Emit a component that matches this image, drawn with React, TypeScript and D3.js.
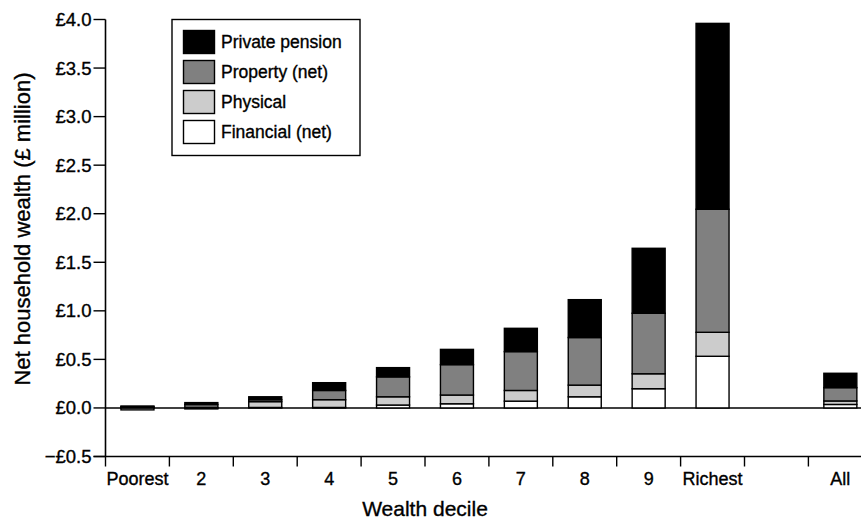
import React from "react";
import * as d3 from "d3";

const categories = ["Poorest", "2", "3", "4", "5", "6", "7", "8", "9", "Richest", "", "All"];
const seriesNames = ["Financial (net)", "Physical", "Property (net)", "Private pension"];
const financial = [-0.02, -0.01, 0.005, 0.005, 0.03, 0.043, 0.07, 0.115, 0.198, 0.532, null, 0.036];
const physical = [0.01, 0.005, 0.06, 0.08, 0.085, 0.09, 0.11, 0.12, 0.154, 0.247, null, 0.036];
const property = [0.0, 0.03, 0.02, 0.095, 0.205, 0.313, 0.4, 0.49, 0.623, 1.267, null, 0.137];
const pension = [0.01, 0.02, 0.03, 0.08, 0.095, 0.157, 0.24, 0.39, 0.669, 1.914, null, 0.148];
const yTicks = [-0.5, 0, 0.5, 1.0, 1.5, 2.0, 2.5, 3.0, 3.5, 4.0];
const colors = ["#ffffff", "#cccccc", "#808080", "#000000"];
const legendOrder = [3, 2, 1, 0];

const W = 861;
const H = 525;
const FONT = "'Liberation Sans', Arial, Helvetica, sans-serif";
const TS = { stroke: "#000", strokeWidth: 0.35 };

export default function App() {
  const x0 = 105.5;
  const step = 63.9;
  const x = d3
    .scaleBand<string>()
    .domain(categories.map((c, i) => String(i)))
    .range([x0, x0 + step * categories.length])
    .padding(0);
  const barW = 33;
  const y = d3.scaleLinear().domain([-0.5, 4.0]).range([456.5, 19.5]);
  const series = [financial, physical, property, pension];

  const rects: React.ReactNode[] = [];
  categories.forEach((c, i) => {
    if (financial[i] === null) return;
    let pos = 0;
    let neg = 0;
    const cx = (x(String(i)) as number) + x.bandwidth() / 2;
    series.forEach((s, k) => {
      const v = s[i] as number;
      let a: number, b: number;
      if (v >= 0) {
        a = pos;
        b = pos + v;
        pos = b;
      } else {
        a = neg;
        b = neg + v;
        neg = b;
      }
      const top = y(Math.max(a, b));
      const bot = y(Math.min(a, b));
      rects.push(
        <rect
          key={`${i}-${k}`}
          x={cx - barW / 2}
          y={top}
          width={barW}
          height={Math.max(bot - top, 0.5)}
          fill={colors[k]}
          stroke="#000"
          strokeWidth={1.4}
        />
      );
    });
  });

  const boundaries = d3.range(categories.length + 1).map((i) => x0 + i * step);

  return (
    <svg
      width={W}
      height={H}
      style={{ position: "absolute", left: 0, top: 0, background: "#fff" }}
      fontFamily={FONT}
    >
      <line x1={x0} x2={W} y1={y(0)} y2={y(0)} stroke="#000" strokeWidth={1.6} />
      {rects}
      <line x1={x0} x2={x0} y1={y(4)} y2={y(-0.5)} stroke="#000" strokeWidth={1.6} />
      {yTicks.map((t) => (
        <g key={t}>
          <line x1={x0 - 12} x2={x0} y1={y(t)} y2={y(t)} stroke="#000" strokeWidth={1.4} />
          <text
            x={x0 - 14}
            y={y(t)}
            dy="0.35em"
            textAnchor="end"
            fontSize={18.5}
            fill="#000"
            {...TS}
          >
            {(t < 0 ? "\u2212£" : "£") + Math.abs(t).toFixed(1)}
          </text>
        </g>
      ))}
      <line x1={x0 - 12} x2={W} y1={y(-0.5)} y2={y(-0.5)} stroke="#000" strokeWidth={1.6} />
      {boundaries.map((b, i) => (
        <line key={i} x1={b} x2={b} y1={y(-0.5)} y2={y(-0.5) + 10} stroke="#000" strokeWidth={1.4} />
      ))}
      {categories.map((c, i) => (
        <text
          key={i}
          x={(x(String(i)) as number) + x.bandwidth() / 2}
          y={485}
          textAnchor="middle"
          fontSize={18}
          fill="#000"
          {...TS}
        >
          {c}
        </text>
      ))}
      <text x={425} y={516} textAnchor="middle" fontSize={21} fill="#000" {...TS}>
        Wealth decile
      </text>
      <text
        transform={`translate(30,229) rotate(-90)`}
        textAnchor="middle"
        fontSize={22}
        fill="#000"
        {...TS}
      >
        Net household wealth (£ million)
      </text>
      <rect x={172} y={19.5} width={188} height={136} fill="#fff" stroke="#000" strokeWidth={1.4} />
      {legendOrder.map((k, r) => (
        <g key={k} transform={`translate(0,${r * 30})`}>
          <rect x={183.5} y={30.5} width={31} height={23} fill={colors[k]} stroke="#000" strokeWidth={1.4} />
          <text x={221} y={48} fontSize={17.5} fill="#000" {...TS}>
            {seriesNames[k]}
          </text>
        </g>
      ))}
    </svg>
  );
}
